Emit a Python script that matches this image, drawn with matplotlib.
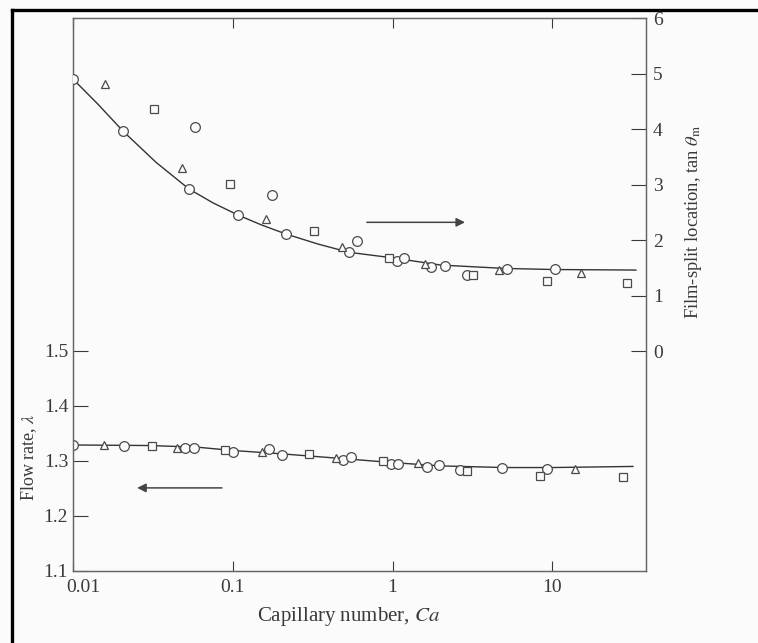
import matplotlib
matplotlib.use('Agg')
import matplotlib.pyplot as plt
from matplotlib.lines import Line2D
from matplotlib.ticker import NullLocator
from matplotlib.transforms import ScaledTranslation

# ------------------------------------------------------------------------------
# data (Ca on x, log scale)

# film-split location, tan theta_m (right axis)
top_circle_ca = [0.01, 0.0206, 0.0532, 0.058, 0.108, 0.176, 0.215, 0.533, 0.598, 1.065, 1.18, 1.74, 2.13, 2.92, 5.2, 10.4]
top_circle_tan = [4.90, 3.96, 2.92, 4.04, 2.45, 2.81, 2.11, 1.78, 1.98, 1.62, 1.68, 1.51, 1.53, 1.37, 1.48, 1.48]
top_triangle_ca = [0.0159, 0.048, 0.161, 0.482, 1.60, 4.63, 15.1]
top_triangle_tan = [4.81, 3.30, 2.38, 1.87, 1.57, 1.46, 1.41]
top_square_ca = [0.0321, 0.096, 0.322, 0.95, 3.18, 9.25, 29.3]
top_square_tan = [4.36, 3.01, 2.16, 1.68, 1.37, 1.26, 1.22]
top_curve_ca = [0.01, 0.0143, 0.0206, 0.0331, 0.0532, 0.0752, 0.108, 0.152, 0.215, 0.34, 0.533, 1.0, 2.0, 5.0, 10.0, 33.3]
top_curve_tan = [4.90, 4.45, 3.96, 3.40, 2.92, 2.67, 2.45, 2.27, 2.11, 1.93, 1.78, 1.68, 1.55, 1.49, 1.47, 1.46]

# flow rate, lambda (left axis)
low_circle_ca = [0.01, 0.0208, 0.0502, 0.0571, 0.100, 0.169, 0.203, 0.49, 0.55, 0.977, 1.08, 1.64, 1.95, 2.64, 4.84, 9.25]
low_circle_lam = [1.329, 1.327, 1.324, 1.324, 1.316, 1.322, 1.311, 1.302, 1.307, 1.2945, 1.2945, 1.289, 1.293, 1.284, 1.287, 1.285]
low_triangle_ca = [0.0156, 0.0448, 0.152, 0.442, 1.44, 13.8]
low_triangle_lam = [1.329, 1.324, 1.316, 1.305, 1.296, 1.285]
low_square_ca = [0.0312, 0.0893, 0.30, 0.871, 2.92, 8.36, 27.7]
low_square_lam = [1.327, 1.320, 1.313, 1.300, 1.282, 1.273, 1.271]
low_curve_ca = [0.01, 0.03, 0.06, 0.1, 0.2, 0.5, 1.0, 2.0, 5.0, 10.0, 31.9]
low_curve_lam = [1.329, 1.328, 1.325, 1.319, 1.313, 1.304, 1.297, 1.291, 1.288, 1.288, 1.290]

x_ticks = [0.01, 0.1, 1, 10]
x_tick_labels = ['0.01', '0.1', '1', '10']
lam_ticks = [1.1, 1.2, 1.3, 1.4, 1.5]
tan_ticks = [0, 1, 2, 3, 4, 5, 6]

INK = '#3a3a3a'
PAPER = '#fbfbfb'

# ------------------------------------------------------------------------------

def setRCParameters():

    plt.rcParams['font.family'] = 'serif'
    plt.rcParams['font.serif'] = ['Liberation Serif', 'DejaVu Serif']
    plt.rcParams['mathtext.fontset'] = 'stix'
    plt.rcParams['font.size'] = 13
    plt.rcParams['text.color'] = INK
    plt.rcParams['axes.labelcolor'] = INK
    plt.rcParams['xtick.color'] = INK
    plt.rcParams['ytick.color'] = INK

def drawSeries(ax, ca_list, val_list, marker, size):

    ax.plot(ca_list, val_list, linestyle = 'none', marker = marker, markersize = size,
            markerfacecolor = PAPER, markeredgecolor = '#4a4a4a', markeredgewidth = 0.9, zorder = 3)

def makeFigure():

    fig = plt.figure(figsize = (7.58, 6.43), dpi = 100, facecolor = PAPER)
    ax = fig.add_axes([0.0963, 0.1120, 0.7559, 0.8600])
    ax.set_facecolor(PAPER)
    ax2 = ax.twinx()

    # curves
    ax.plot(low_curve_ca, low_curve_lam, color = '#333333', linewidth = 1.0, zorder = 2)
    ax2.plot(top_curve_ca, top_curve_tan, color = '#333333', linewidth = 1.0, zorder = 2)

    # experimental points
    drawSeries(ax, low_circle_ca, low_circle_lam, 'o', 7)
    drawSeries(ax, low_triangle_ca, low_triangle_lam, '^', 6)
    drawSeries(ax, low_square_ca, low_square_lam, 's', 5.5)
    drawSeries(ax2, top_circle_ca, top_circle_tan, 'o', 7)
    drawSeries(ax2, top_triangle_ca, top_triangle_tan, '^', 6)
    drawSeries(ax2, top_square_ca, top_square_tan, 's', 5.5)

    # arrows telling which axis belongs to which curve
    arrow_props = dict(arrowstyle = '-|>', color = '#444444', lw = 1.1, mutation_scale = 13,
                       shrinkA = 0, shrinkB = 0)
    ax2.annotate('', xy = (2.84, 2.32), xytext = (0.69, 2.32), arrowprops = arrow_props)
    ax.annotate('', xy = (0.0252, 1.251), xytext = (0.0855, 1.251), arrowprops = arrow_props)

    # x axis
    ax.set_xscale('log')
    ax.set_xlim(0.0100, 38.5)
    ax.set_xticks(x_ticks)
    ax.set_xticklabels(x_tick_labels)
    ax.xaxis.set_minor_locator(NullLocator())
    ax.tick_params(axis = 'x', which = 'major', direction = 'in', top = True, length = 7.5,
                   width = 0.8, pad = 5.5, labelsize = 14)
    # in the original the first label sits a little right of the corner
    first_label = ax.get_xticklabels()[0]
    first_label.set_transform(first_label.get_transform() + ScaledTranslation(0.10, 0, fig.dpi_scale_trans))
    ax.set_xlabel(r'Capillary number, $Ca$', fontsize = 15)
    ax.xaxis.set_label_coords(0.48, -0.062)

    # left axis, flow rate
    ax.set_ylim(1.1, 2.105)
    ax.set_yticks(lam_ticks)
    ax.set_yticklabels(['%.1f' % t for t in lam_ticks])
    ax.tick_params(axis = 'y', direction = 'in', length = 11, width = 0.8, pad = 3.5, labelsize = 14)
    ax.set_ylabel(r'Flow rate, $\lambda$', fontsize = 13)
    ax.yaxis.set_label_coords(-0.060, 0.206)

    # right axis, film-split location
    ax2.set_ylim(-3.96, 6)
    ax2.set_yticks(tan_ticks)
    ax2.tick_params(axis = 'y', direction = 'in', length = 10.5, width = 0.8, pad = 5, labelsize = 14)
    ax2.set_ylabel(r'Film-split location, tan $\theta_{\mathrm{m}}$', fontsize = 13.3)
    ax2.yaxis.set_label_coords(1.064, 0.631)

    for axis in (ax, ax2):
        for spine in axis.spines.values():
            spine.set_color('#666666')
            spine.set_linewidth(0.9)

    # thick frame left over from the scanned page
    fig.add_artist(Line2D([0.0158, 1.0], [0.9844, 0.9844], color = 'black', linewidth = 2.4))
    fig.add_artist(Line2D([0.0158, 0.0158], [0.0, 0.9844], color = 'black', linewidth = 2.4))

    return fig

def main():

    setRCParameters()
    fig = makeFigure()
    fig.savefig('out.png', dpi = 100, facecolor = fig.get_facecolor())


if __name__ == '__main__':
    main()
